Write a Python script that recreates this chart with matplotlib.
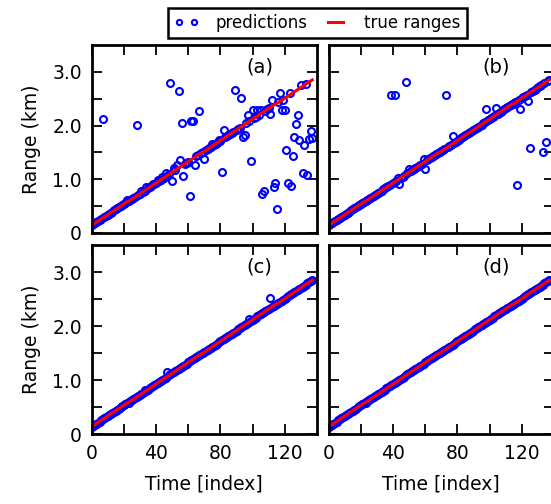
import matplotlib
matplotlib.use("Agg")
import matplotlib.pyplot as plt

# true range (km) at every time index 0..137
time_idx = list(range(138))
true_km = [
    0.14, 0.16, 0.18, 0.20, 0.22, 0.24, 0.26, 0.28, 0.30, 0.32,
    0.34, 0.36, 0.38, 0.40, 0.42, 0.44, 0.46, 0.48, 0.50, 0.52,
    0.54, 0.56, 0.58, 0.59, 0.61, 0.63, 0.65, 0.67, 0.69, 0.71,
    0.73, 0.75, 0.77, 0.79, 0.81, 0.83, 0.85, 0.87, 0.89, 0.91,
    0.93, 0.95, 0.97, 0.99, 1.01, 1.03, 1.05, 1.07, 1.09, 1.11,
    1.13, 1.15, 1.17, 1.19, 1.21, 1.23, 1.25, 1.27, 1.29, 1.31,
    1.33, 1.35, 1.37, 1.39, 1.41, 1.43, 1.45, 1.47, 1.49, 1.50,
    1.52, 1.54, 1.56, 1.58, 1.60, 1.62, 1.64, 1.66, 1.68, 1.70,
    1.72, 1.74, 1.76, 1.78, 1.80, 1.82, 1.84, 1.86, 1.88, 1.90,
    1.92, 1.94, 1.96, 1.98, 2.00, 2.02, 2.04, 2.06, 2.08, 2.10,
    2.12, 2.14, 2.16, 2.18, 2.20, 2.22, 2.24, 2.26, 2.28, 2.30,
    2.32, 2.34, 2.36, 2.38, 2.40, 2.41, 2.43, 2.45, 2.47, 2.49,
    2.51, 2.53, 2.55, 2.57, 2.59, 2.61, 2.63, 2.65, 2.67, 2.69,
    2.71, 2.73, 2.75, 2.77, 2.79, 2.81, 2.83, 2.85,
]

# predictions that miss the true range: (time index, range km)
miss_a = [
    (7, 2.13), (22, 0.61), (28, 2.01), (31, 0.78), (34, 0.86), (38, 0.92),
    (41, 0.99), (44, 1.04), (46, 1.11), (49, 2.80),
    (50, 0.96), (51, 1.21), (53, 1.27), (54, 2.65), (55, 1.35), (56, 2.05),
    (57, 1.06), (60, 1.32), (61, 0.68), (62, 2.09), (63, 2.09), (64, 1.27),
    (67, 2.27), (70, 1.38), (75, 1.65), (79, 1.73), (81, 1.14), (82, 1.92),
    (89, 2.67), (93, 2.51),
    (94, 1.79), (95, 1.82), (97, 2.19), (99, 1.34), (100, 2.29), (103, 2.29),
    (105, 2.29), (106, 0.72), (107, 0.78), (111, 2.21), (112, 2.48),
    (113, 0.86), (114, 0.94), (115, 0.44), (117, 2.61), (118, 2.29),
    (119, 2.48), (120, 2.29), (121, 1.55), (122, 0.94), (123, 2.60),
    (124, 0.88), (125, 1.44), (126, 1.79), (127, 2.03), (128, 2.19),
    (129, 1.74), (130, 2.76), (131, 1.12), (132, 1.63), (133, 2.77),
    (134, 1.08), (135, 1.75), (136, 1.89), (137, 1.76),
]
miss_b = [
    (39, 2.57), (41, 2.57), (43, 1.03), (44, 0.91), (48, 2.82), (50, 1.19),
    (59, 1.38), (60, 1.20), (73, 2.57), (77, 1.80), (98, 2.31), (104, 2.33),
    (117, 0.90), (119, 2.31), (124, 2.45), (125, 1.59), (133, 1.51),
    (135, 1.69),
]
miss_c = [(33, 0.82), (47, 1.15), (98, 2.13), (111, 2.53)]
miss_d = []

panel_tags = ["(a)", "(b)", "(c)", "(d)"]
panel_misses = [miss_a, miss_b, miss_c, miss_d]


def predictions(misses):
    pred = list(true_km)
    for t, r in misses:
        pred[t] = r
    return pred


fig = plt.figure(figsize=(5.51, 5.04), dpi=100)

# axes boxes in figure fractions (right column runs past the edge, as in the original crop)
boxes = [
    (0.1661, 0.5377, 0.4093, 0.3730),
    (0.5962, 0.5377, 0.4093, 0.3730),
    (0.1661, 0.1379, 0.4093, 0.3760),
    (0.5962, 0.1379, 0.4093, 0.3760),
]

for i in range(4):
    ax = fig.add_axes(boxes[i])
    pred = predictions(panel_misses[i])
    ax.plot(time_idx, pred, "o", mfc="none", mec="b", mew=1.5, ms=5,
            label="predictions")
    ax.plot(time_idx, true_km, "r-", lw=2.2, label="true ranges")

    ax.set_xlim(0, 140)
    ax.set_ylim(0, 3.5)
    ax.set_xticks([0, 40, 80, 120])
    ax.set_xticks([20, 60, 100], minor=True)
    ax.set_yticks([0, 1, 2, 3])
    ax.set_yticks([0.5, 1.5, 2.5], minor=True)
    ax.tick_params(which="both", direction="in", top=True, right=True,
                   length=7, width=1.3, labelsize=13.5, pad=7)
    for sp in ax.spines.values():
        sp.set_linewidth(2)

    if i % 2 == 0:
        ax.set_yticklabels(["0", "1.0", "2.0", "3.0"])
        ax.set_ylabel("Range (km)", fontsize=13.5, labelpad=8)
    else:
        ax.set_yticklabels([])
    if i >= 2:
        ax.set_xticklabels(["0", "40", "80", "120"])
        ax.set_xlabel("Time [index]", fontsize=13.5, labelpad=8)
    else:
        ax.set_xticklabels([])

    ax.text(0.745, 0.885, panel_tags[i], transform=ax.transAxes,
            ha="center", va="center", fontsize=14)

    if i == 0:
        handles, labels = ax.get_legend_handles_labels()

leg = fig.legend(handles, labels, loc="center", bbox_to_anchor=(0.576, 0.955),
                 ncol=2, numpoints=2, markerscale=0.75, fontsize=12,
                 fancybox=False, handlelength=1.5, handletextpad=1.0,
                 columnspacing=0.9, borderpad=0.35, framealpha=1)
leg.get_frame().set_edgecolor("black")
leg.get_frame().set_linewidth(1.8)

fig.savefig("out.png", dpi=100)
